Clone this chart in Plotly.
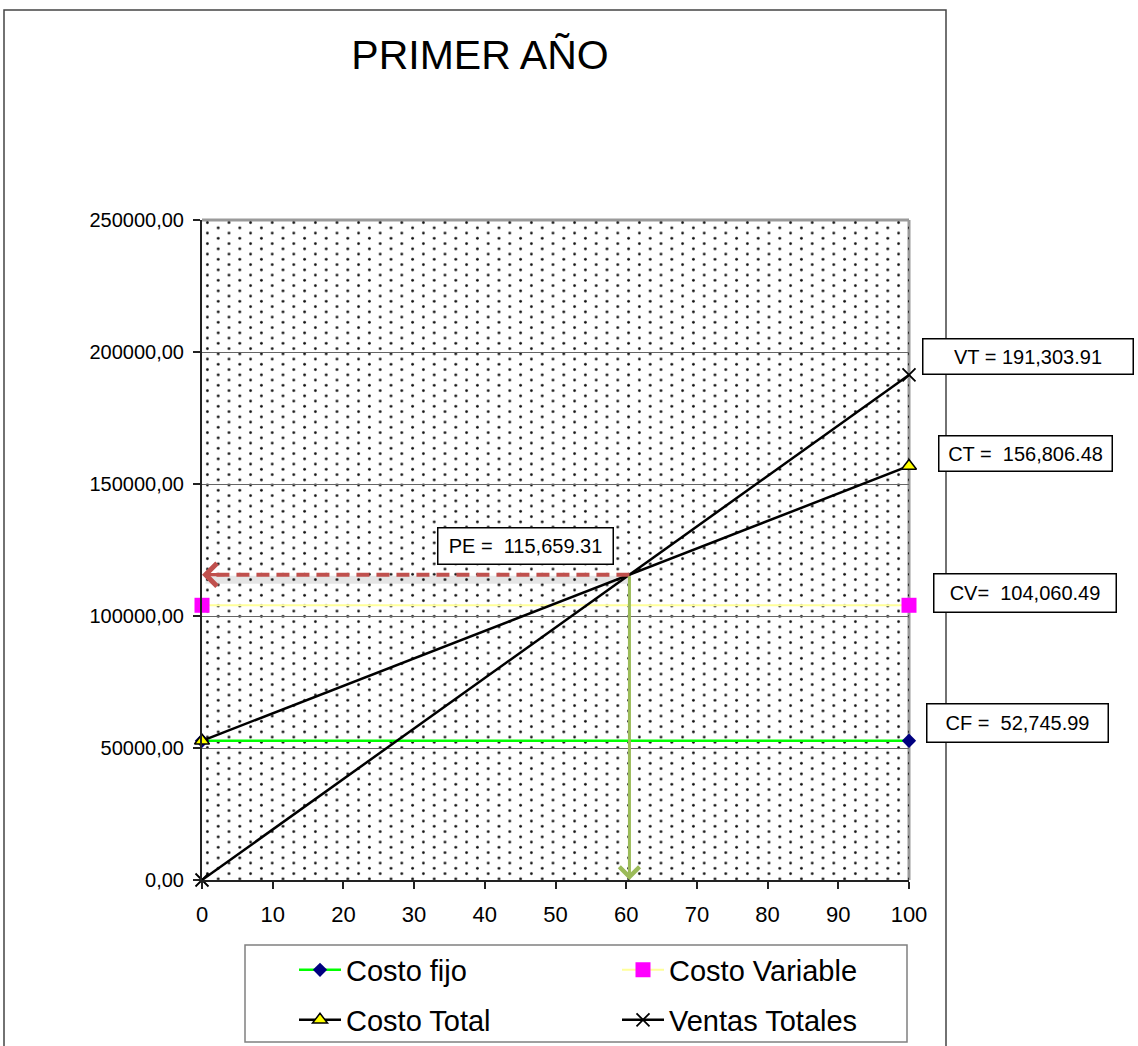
import base64
import plotly.graph_objects as go

# ---------------- data ----------------
x_units = [0, 100]
costo_fijo = [52745.99, 52745.99]
costo_variable = [104060.49, 104060.49]
costo_total = [52745.99, 156806.48]
ventas_totales = [0.0, 191303.91]
punto_equilibrio = 115659.31

y_tickvals = [0, 50000, 100000, 150000, 200000, 250000]
y_ticktext = ["0,00", "50000,00", "100000,00", "150000,00", "200000,00", "250000,00"]
x_tickvals = [0, 10, 20, 30, 40, 50, 60, 70, 80, 90, 100]

label_vt = "VT = 191,303.91"
label_ct = "CT = \u00a0156,806.48"
label_pe = "PE = \u00a0115,659.31"
label_cv = "CV= \u00a0104,060.49"
label_cf = "CF = \u00a052,745.99"

# x where sales line meets the break-even value
pe_x = punto_equilibrio / ventas_totales[1] * (x_units[1] - x_units[0])

# ---------------- layout geometry (pixels) ----------------
W, H = 1138, 1046
L, R, T, B = 202, 229, 220, 166
PW, PH = W - L - R, H - T - B


def px(xp):
    return (xp - L) / PW


def py(yp):
    return (H - B - yp) / PH


FONT = "Liberation Sans, Arial, sans-serif"

# dotted background texture
svg = (
    '<svg xmlns="http://www.w3.org/2000/svg" width="707" height="660">'
    '<defs><pattern id="p" width="21.6" height="10.5" patternUnits="userSpaceOnUse">'
    '<circle cx="5.4" cy="2.6" r="1.35" fill="#111111"/>'
    '<circle cx="16.2" cy="7.85" r="1.35" fill="#111111"/>'
    '</pattern></defs>'
    '<rect width="707" height="660" fill="url(#p)"/></svg>'
)
svg_uri = "data:image/svg+xml;base64," + base64.b64encode(svg.encode()).decode()

fig = go.Figure()

fig.add_trace(go.Scatter(
    x=x_units, y=costo_fijo, name="Costo fijo", mode="lines+markers",
    line=dict(color="#00FF00", width=2.5),
    marker=dict(symbol="diamond", size=11, color="#000080"),
    cliponaxis=False, legend="legend",
))
fig.add_trace(go.Scatter(
    x=x_units, y=costo_variable, name="Costo Variable", mode="lines+markers",
    line=dict(color="#FFFF99", width=2),
    marker=dict(symbol="square", size=15, color="#FF00FF"),
    cliponaxis=False, legend="legend",
))
fig.add_trace(go.Scatter(
    x=x_units, y=costo_total, name="Costo Total", mode="lines+markers",
    line=dict(color="#000000", width=2.5),
    marker=dict(symbol="triangle-up", size=13, color="#FFFF00",
                line=dict(color="#000000", width=1.5)),
    cliponaxis=False, legend="legend2",
))
fig.add_trace(go.Scatter(
    x=x_units, y=ventas_totales, name="Ventas Totales", mode="lines+markers",
    line=dict(color="#000000", width=2.5),
    marker=dict(symbol="x-thin", size=13, color="#000000",
                line=dict(color="#000000", width=1.8)),
    cliponaxis=False, legend="legend2",
))

shapes = [
    # outer chart border
    dict(type="rect", xref="paper", yref="paper",
         x0=px(4), x1=px(946), y0=py(1070), y1=py(10),
         line=dict(color="#444444", width=1.5), layer="below"),
    # legend frame
    dict(type="rect", xref="paper", yref="paper",
         x0=px(245), x1=px(907), y0=py(1042), y1=py(945),
         line=dict(color="#808080", width=1.5), fillcolor="#FFFFFF", layer="below"),
    # plot-area top/right border
    dict(type="line", xref="paper", yref="paper", x0=0, x1=1, y0=1, y1=1,
         line=dict(color="#9a9a9a", width=3), layer="below"),
    dict(type="line", xref="paper", yref="paper", x0=1, x1=1, y0=0, y1=1,
         line=dict(color="#9a9a9a", width=3), layer="below"),
    # shadow of the red arrow
    dict(type="line", xref="x", yref="y",
         x0=pe_x, x1=0.5, y0=punto_equilibrio - 1900, y1=punto_equilibrio - 1900,
         line=dict(color="rgba(0,0,0,0.10)", width=8)),
    # red dashed break-even arrow
    dict(type="line", xref="x", yref="y",
         x0=pe_x, x1=0.4, y0=punto_equilibrio, y1=punto_equilibrio,
         line=dict(color="#C0504D", width=4, dash="13px,7px")),
]

box = dict(font=dict(family=FONT, size=20, color="#000000"), showarrow=False,
           bgcolor="#FFFFFF", bordercolor="#000000", borderwidth=1.5, borderpad=0,
           xref="paper", yref="paper", xanchor="center", yanchor="middle")

annotations = [
    dict(text=label_vt, x=px(1028), y=py(356), width=209, height=34, **box),
    dict(text=label_ct, x=px(1025), y=py(453), width=172, height=34, **box),
    dict(text=label_pe, x=px(525), y=py(546), width=174, height=35, **box),
    dict(text=label_cv, x=px(1025), y=py(593), width=181, height=37, **box),
    dict(text=label_cf, x=px(1017), y=py(723), width=180, height=37, **box),
    # red arrow head
    dict(x=0, y=punto_equilibrio, xref="x", yref="y", ax=24, ay=0, text="",
         showarrow=True, arrowhead=4, arrowsize=1.3, arrowwidth=3.4,
         arrowcolor="#C0504D", standoff=0),
    # green vertical arrow
    dict(x=pe_x, y=0, xref="x", yref="y", ax=pe_x, ay=punto_equilibrio,
         axref="x", ayref="y", text="", showarrow=True, arrowhead=4,
         arrowsize=1.3, arrowwidth=3, arrowcolor="#9BBB59", standoff=0),
]

leg_common = dict(orientation="h", xanchor="left", yanchor="middle",
                  xref="paper", yref="paper",
                  entrywidth=266, entrywidthmode="pixels", itemwidth=42,
                  font=dict(family=FONT, size=29, color="#000000"),
                  borderwidth=0, bgcolor="rgba(0,0,0,0)", itemsizing="trace")

fig.update_layout(
    width=W, height=H,
    margin=dict(l=L, r=R, t=T, b=B, pad=0, autoexpand=False),
    paper_bgcolor="#FFFFFF",
    plot_bgcolor="rgba(0,0,0,0)",
    font=dict(family=FONT, color="#000000"),
    title=dict(text="PRIMER AÑO", x=px(480), xref="paper", xanchor="center",
               y=1 - 55 / H, yref="container", yanchor="middle",
               font=dict(family=FONT, size=41, color="#000000")),
    showlegend=True,
    legend=dict(x=px(294), y=py(970), **leg_common),
    legend2=dict(x=px(294), y=py(1020), **leg_common),
    xaxis=dict(range=[0, 100], tickvals=x_tickvals, showgrid=False, zeroline=False,
               showline=True, linecolor="#222222", linewidth=2,
               ticks="outside", ticklen=7, tickwidth=1.5, tickcolor="#222222",
               ticklabelstandoff=7,
               tickfont=dict(family=FONT, size=22, color="#000000")),
    yaxis=dict(range=[0, 250000], tickvals=y_tickvals, ticktext=y_ticktext,
               showgrid=True, gridcolor="#666666", gridwidth=1, zeroline=False,
               showline=True, linecolor="#222222", linewidth=2,
               ticks="outside", ticklen=7, tickwidth=1.5, tickcolor="#222222",
               ticklabelstandoff=5,
               tickfont=dict(family=FONT, size=20, color="#000000")),
    shapes=shapes,
    annotations=annotations,
    images=[dict(source=svg_uri, xref="x", yref="y", x=0, y=250000,
                 sizex=100, sizey=250000, sizing="stretch",
                 xanchor="left", yanchor="top", layer="below")],
)

fig.write_html("out.html")
